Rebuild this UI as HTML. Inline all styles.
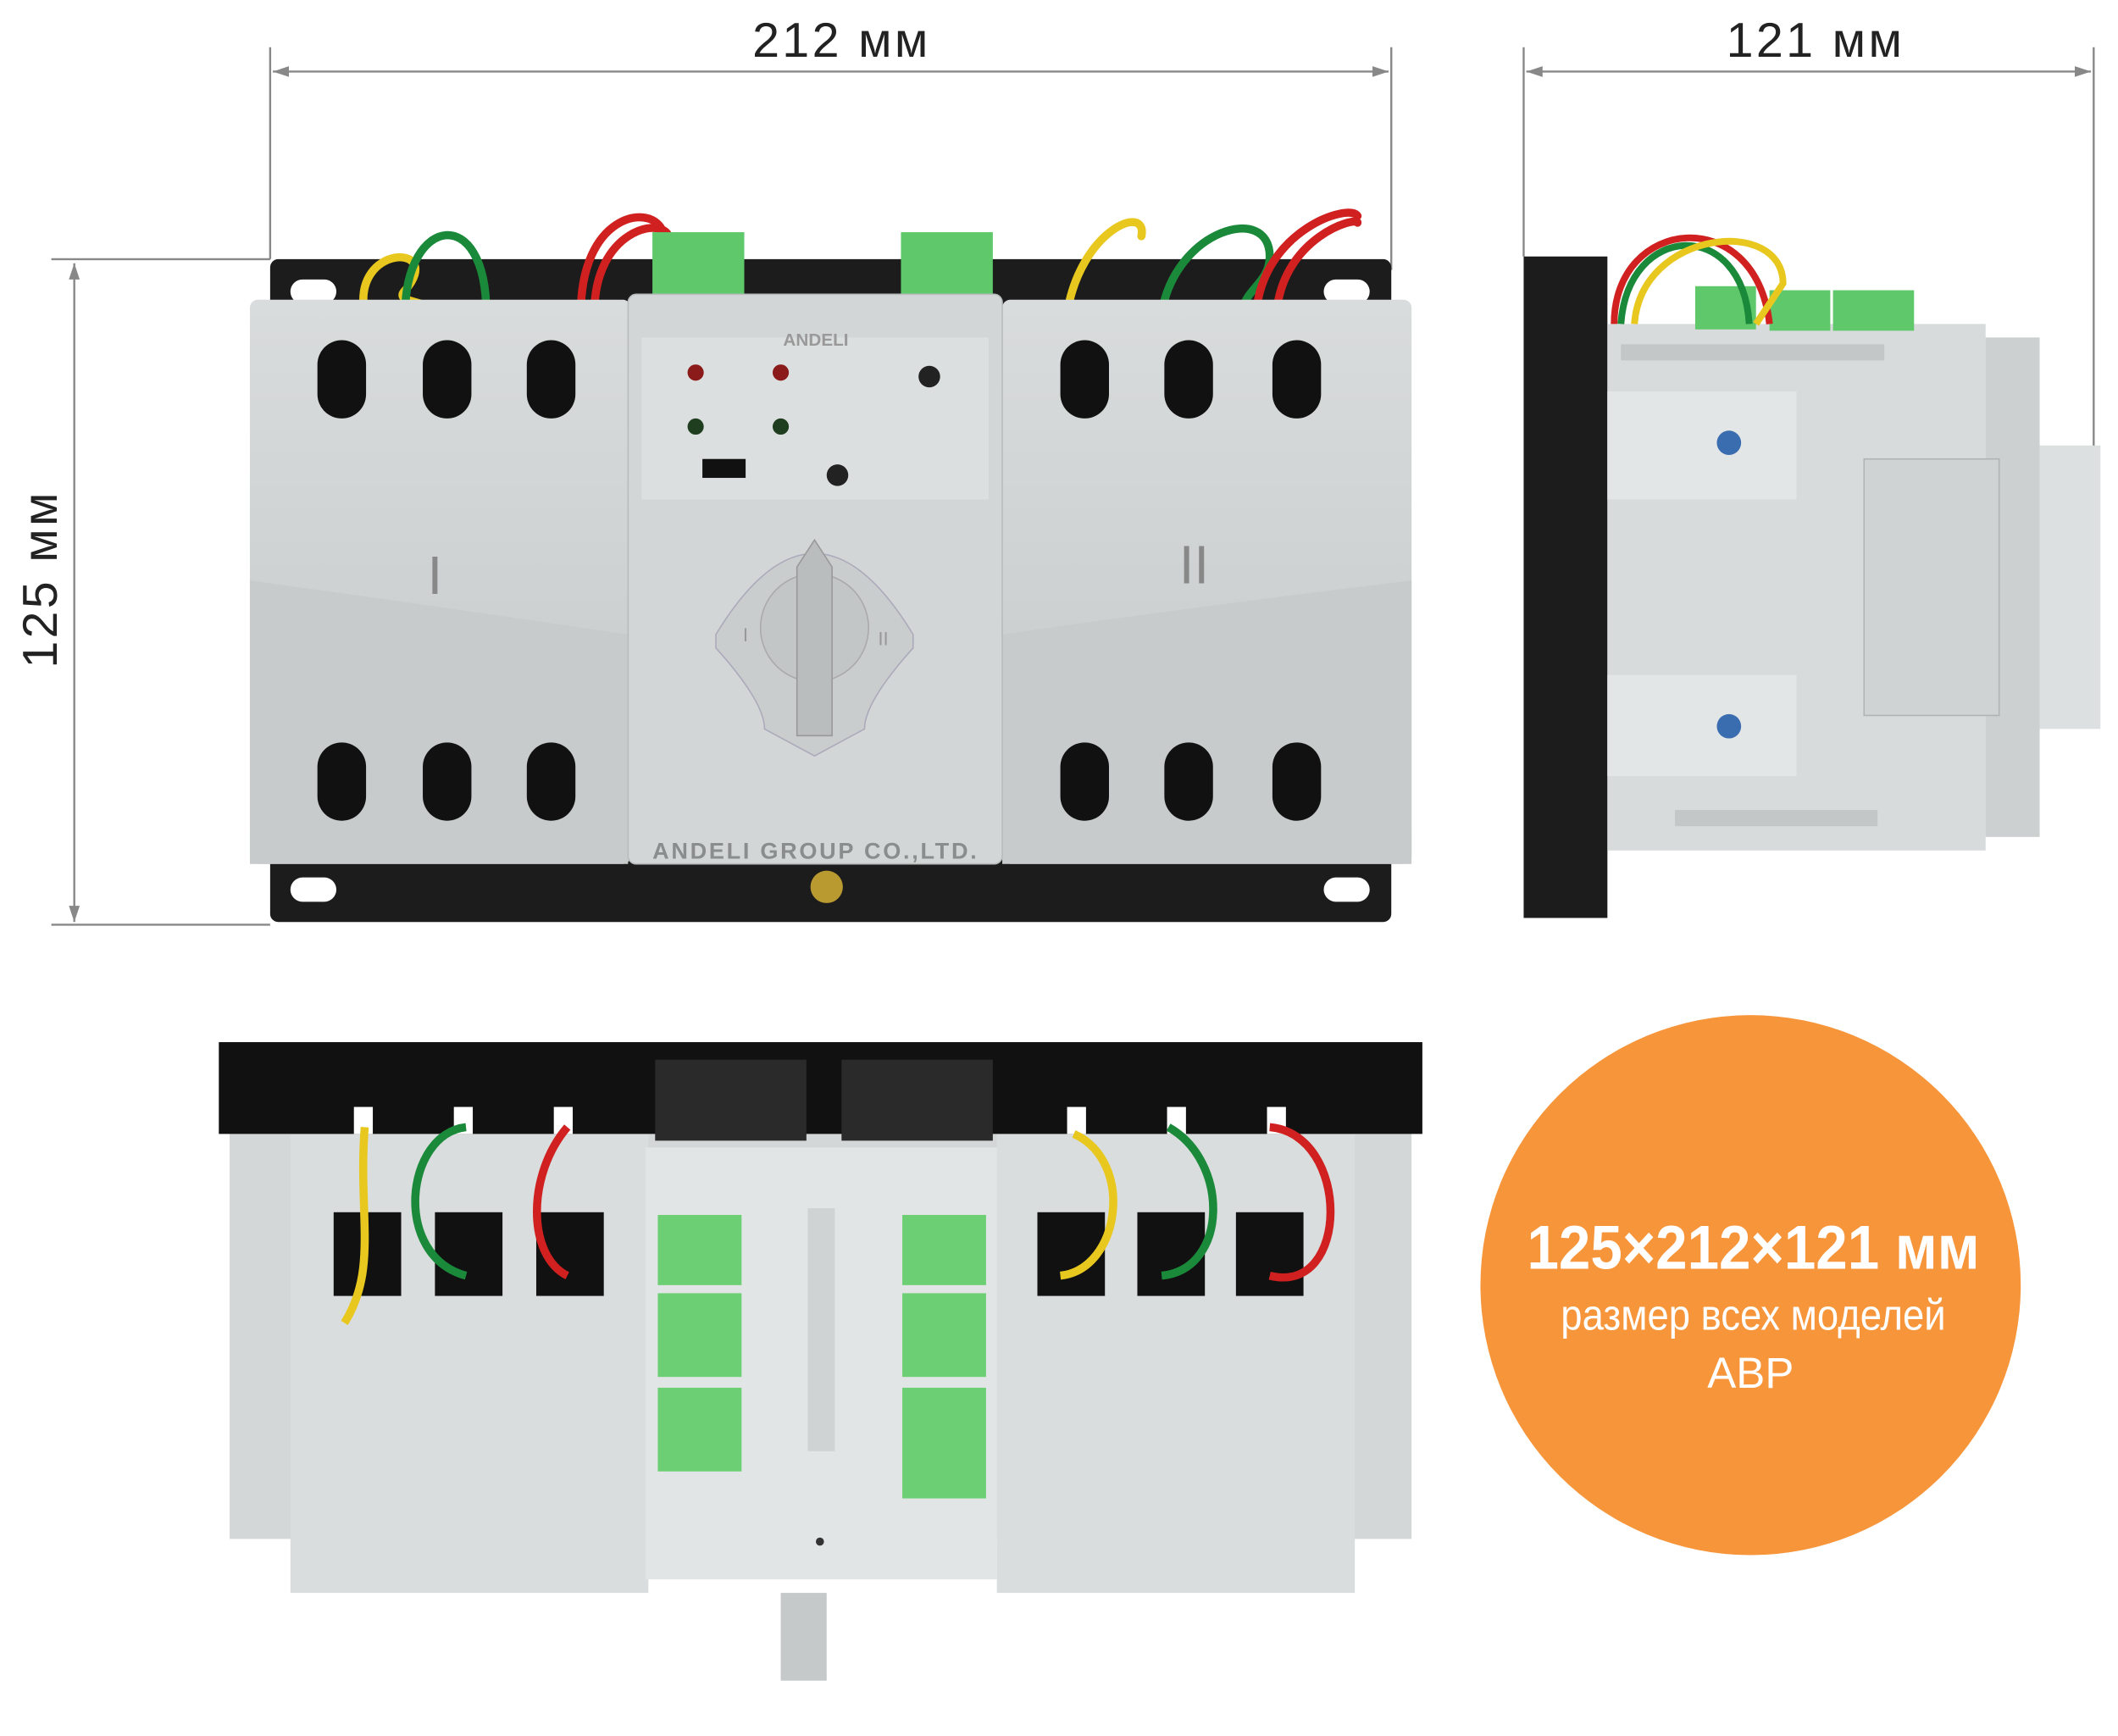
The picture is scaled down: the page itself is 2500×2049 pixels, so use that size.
<!DOCTYPE html>
<html><head><meta charset="utf-8"><style>
html,body{margin:0;padding:0;background:#fff}
svg{display:block}
text{font-family:"Liberation Sans",sans-serif}
</style></head><body>
<svg width="2500" height="2049" viewBox="0 0 1568 1286" preserveAspectRatio="none" xmlns="http://www.w3.org/2000/svg">
<defs>
<marker id="ar" markerWidth="12" markerHeight="8" refX="12" refY="4" orient="auto-start-reverse" markerUnits="userSpaceOnUse"><path d="M0,0 L12,4 L0,8 z" fill="#888"/></marker>
<linearGradient id="gb" x1="0" y1="0" x2="0" y2="1"><stop offset="0" stop-color="#d9dcdc"/><stop offset="1" stop-color="#c4c8c8"/></linearGradient>
</defs>
<rect width="1568" height="1286" fill="#fff"/>
<g stroke="#888" stroke-width="1.5" fill="none">
<line x1="200" y1="35" x2="200" y2="192"/><line x1="1030" y1="35" x2="1030" y2="200"/>
<line x1="202" y1="53" x2="1028" y2="53" marker-end="url(#ar)" marker-start="url(#ar)"/>
<line x1="1128" y1="35" x2="1128" y2="190"/><line x1="1550" y1="35" x2="1550" y2="390"/>
<line x1="1130" y1="53" x2="1548" y2="53" marker-end="url(#ar)" marker-start="url(#ar)"/>
<line x1="38" y1="192" x2="200" y2="192"/><line x1="38" y1="685" x2="200" y2="685"/>
<line x1="55" y1="195" x2="55" y2="683" marker-end="url(#ar)" marker-start="url(#ar)"/>
</g>
<text x="622" y="42" font-size="36" text-anchor="middle" fill="#222" textLength="130">212 мм</text>
<text x="1343" y="42" font-size="36" text-anchor="middle" fill="#222" textLength="130">121 мм</text>
<text transform="translate(42,430) rotate(-90)" font-size="36" text-anchor="middle" fill="#222" textLength="130">125 мм</text>

<!-- FRONT VIEW -->
<rect x="200" y="192" width="830" height="491" rx="6" fill="#1d1c1c"/>
<rect x="215" y="207" width="34" height="18" rx="9" fill="#fff"/><rect x="980" y="207" width="34" height="18" rx="9" fill="#fff"/>
<rect x="215" y="650" width="34" height="18" rx="9" fill="#fff"/><rect x="980" y="650" width="34" height="18" rx="9" fill="#fff"/>
<g fill="none" stroke-width="6" stroke-linecap="round">
<path d="M270,232 C260,180 330,180 300,215 C290,225 320,222 320,232" stroke="#e8c81e"/>
<path d="M300,232 C300,160 360,150 360,232" stroke="#1a8a3a"/>
<path d="M430,232 C430,160 480,150 490,170" stroke="#d02020"/>
<path d="M440,232 C440,170 490,160 495,175" stroke="#d02020"/>
<path d="M790,232 C800,170 850,150 845,175" stroke="#e8c81e"/>
<path d="M860,232 C870,170 940,150 940,190 C940,210 920,215 920,232" stroke="#1a8a3a"/>
<path d="M930,232 C935,170 1000,150 1005,160" stroke="#d02020"/>
<path d="M945,232 C950,175 1005,160 1005,165" stroke="#d02020"/>
</g>
<rect x="483" y="172" width="68" height="46" fill="#5ec86a"/><rect x="667" y="172" width="68" height="46" fill="#5ec86a"/>
<rect x="185" y="222" width="282" height="418" rx="6" fill="url(#gb)"/>
<rect x="742" y="222" width="303" height="418" rx="6" fill="url(#gb)"/>
<path d="M185,430 Q330,450 465,470 L465,640 L185,640 z" fill="#c7cbcb"/>
<path d="M742,470 Q880,450 1045,430 L1045,640 L742,640 z" fill="#c7cbcb"/>
<g fill="#111">
<rect x="235" y="252" width="36" height="58" rx="18"/><rect x="313" y="252" width="36" height="58" rx="18"/><rect x="390" y="252" width="36" height="58" rx="18"/>
<rect x="785" y="252" width="36" height="58" rx="18"/><rect x="862" y="252" width="36" height="58" rx="18"/><rect x="942" y="252" width="36" height="58" rx="18"/>
<rect x="235" y="550" width="36" height="58" rx="18"/><rect x="313" y="550" width="36" height="58" rx="18"/><rect x="390" y="550" width="36" height="58" rx="18"/>
<rect x="785" y="550" width="36" height="58" rx="18"/><rect x="862" y="550" width="36" height="58" rx="18"/><rect x="942" y="550" width="36" height="58" rx="18"/>
</g>
<text x="322" y="440" font-size="40" font-family="Liberation Serif" fill="#888" text-anchor="middle">I</text>
<text x="884" y="432" font-size="40" font-family="Liberation Serif" fill="#888" text-anchor="middle">II</text>
<rect x="465" y="218" width="277" height="422" rx="6" fill="#d3d6d6" stroke="#b8bcbc"/>
<rect x="475" y="250" width="257" height="120" fill="#dcdfdf"/>
<text x="604" y="256" font-size="13" font-weight="bold" fill="#999" text-anchor="middle">ANDELI</text>
<circle cx="515" cy="276" r="6" fill="#8b1a1a"/><circle cx="578" cy="276" r="6" fill="#8b1a1a"/>
<circle cx="515" cy="316" r="6" fill="#1f3d1f"/><circle cx="578" cy="316" r="6" fill="#1f3d1f"/>
<circle cx="688" cy="279" r="8" fill="#222"/><circle cx="620" cy="352" r="8" fill="#222"/>
<rect x="520" y="340" width="32" height="14" fill="#111"/>
<path d="M530,470 Q603,350 676,470 L676,480 Q640,520 640,540 L603,560 L566,540 Q566,520 530,480 z" fill="#c9cdcd" stroke="#aab" stroke-width="1"/>
<circle cx="603" cy="465" r="40" fill="#c2c6c6" stroke="#aaa"/>
<path d="M590,420 L603,400 L616,420 L616,545 L590,545 z" fill="#b9bdbd" stroke="#999"/>
<text x="550" y="475" font-size="14" fill="#999" font-family="Liberation Serif">I</text>
<text x="650" y="478" font-size="14" fill="#999" font-family="Liberation Serif">II</text>
<text x="603" y="636" font-size="17" font-weight="bold" fill="#8a8d8d" text-anchor="middle" textLength="240">ANDELI GROUP CO.,LTD.</text>
<circle cx="612" cy="657" r="12" fill="#b89a30"/>

<!-- SIDE VIEW -->
<rect x="1128" y="190" width="62" height="490" fill="#1d1c1c"/>
<rect x="1190" y="240" width="280" height="390" fill="#d7dbdb"/>
<rect x="1200" y="255" width="195" height="12" fill="#c3c7c7"/><rect x="1240" y="600" width="150" height="12" fill="#c3c7c7"/>
<path d="M1190,290 L1330,290 L1330,370 L1190,370 z" fill="#e3e6e6"/>
<path d="M1190,500 L1330,500 L1330,575 L1190,575 z" fill="#e3e6e6"/>
<circle cx="1280" cy="328" r="9" fill="#3a6db0"/><circle cx="1280" cy="538" r="9" fill="#3a6db0"/>
<rect x="1470" y="250" width="40" height="370" fill="#ccd0d0"/>
<rect x="1510" y="330" width="45" height="210" fill="#dde0e0"/>
<rect x="1380" y="340" width="100" height="190" fill="#cfd3d3" stroke="#b0b4b4"/>
<rect x="1255" y="212" width="45" height="32" fill="#5ec86a"/><rect x="1310" y="215" width="45" height="30" fill="#5ec86a"/><rect x="1357" y="215" width="60" height="30" fill="#5ec86a"/>
<g fill="none" stroke-width="5">
<path d="M1195,240 C1195,160 1300,150 1310,240" stroke="#d02020"/>
<path d="M1200,240 C1205,165 1290,160 1295,240" stroke="#1a8a3a"/>
<path d="M1210,240 C1215,170 1320,160 1320,210 L1300,240" stroke="#e8c81e"/>
</g>

<!-- BOTTOM VIEW -->
<rect x="170" y="840" width="875" height="300" fill="#d3d7d7"/>
<rect x="215" y="840" width="265" height="340" fill="#dadddd"/>
<rect x="738" y="840" width="265" height="340" fill="#dadddd"/>
<rect x="162" y="772" width="891" height="68" fill="#111"/>
<rect x="485" y="785" width="112" height="60" fill="#2a2a2a"/><rect x="623" y="785" width="112" height="60" fill="#2a2a2a"/>
<rect x="478" y="850" width="260" height="320" fill="#e2e5e5"/>
<g fill="#fff"><rect x="262" y="820" width="14" height="20"/><rect x="336" y="820" width="14" height="20"/><rect x="410" y="820" width="14" height="20"/><rect x="790" y="820" width="14" height="20"/><rect x="864" y="820" width="14" height="20"/><rect x="938" y="820" width="14" height="20"/></g>
<g fill="#111"><rect x="247" y="898" width="50" height="62"/><rect x="322" y="898" width="50" height="62"/><rect x="397" y="898" width="50" height="62"/><rect x="768" y="898" width="50" height="62"/><rect x="842" y="898" width="50" height="62"/><rect x="915" y="898" width="50" height="62"/></g>
<g fill="none" stroke-width="6">
<path d="M270,835 C265,900 280,940 255,980" stroke="#e8c81e"/>
<path d="M345,835 C300,840 290,930 345,945" stroke="#1a8a3a"/>
<path d="M420,835 C390,870 390,930 420,945" stroke="#d02020"/>
<path d="M795,840 C840,860 830,940 785,945" stroke="#e8c81e"/>
<path d="M865,835 C910,860 910,940 860,945" stroke="#1a8a3a"/>
<path d="M940,835 C1000,840 1000,960 940,945" stroke="#d02020"/>
</g>
<rect x="487" y="900" width="62" height="52" fill="#6ccf74"/><rect x="487" y="958" width="62" height="62" fill="#6ccf74"/><rect x="487" y="1028" width="62" height="62" fill="#6ccf74"/>
<rect x="668" y="900" width="62" height="52" fill="#6ccf74"/><rect x="668" y="958" width="62" height="62" fill="#6ccf74"/><rect x="668" y="1028" width="62" height="82" fill="#6ccf74"/>
<rect x="598" y="895" width="20" height="180" fill="#cfd3d3"/>
<circle cx="607" cy="1142" r="3" fill="#333"/>
<rect x="578" y="1180" width="34" height="65" fill="#c5c9c9"/>

<!-- ORANGE CIRCLE -->
<circle cx="1296" cy="952" r="200" fill="#f7953b"/>
<text x="1298" y="940" font-size="46" font-weight="bold" fill="#fff" text-anchor="middle" textLength="335" lengthAdjust="spacingAndGlyphs">125×212×121 мм</text>
<text x="1298" y="985" font-size="32" fill="#fff" text-anchor="middle" textLength="285" lengthAdjust="spacingAndGlyphs">размер всех моделей</text>
<text x="1296" y="1028" font-size="32" fill="#fff" text-anchor="middle">АВР</text>
</svg>
</body></html>
